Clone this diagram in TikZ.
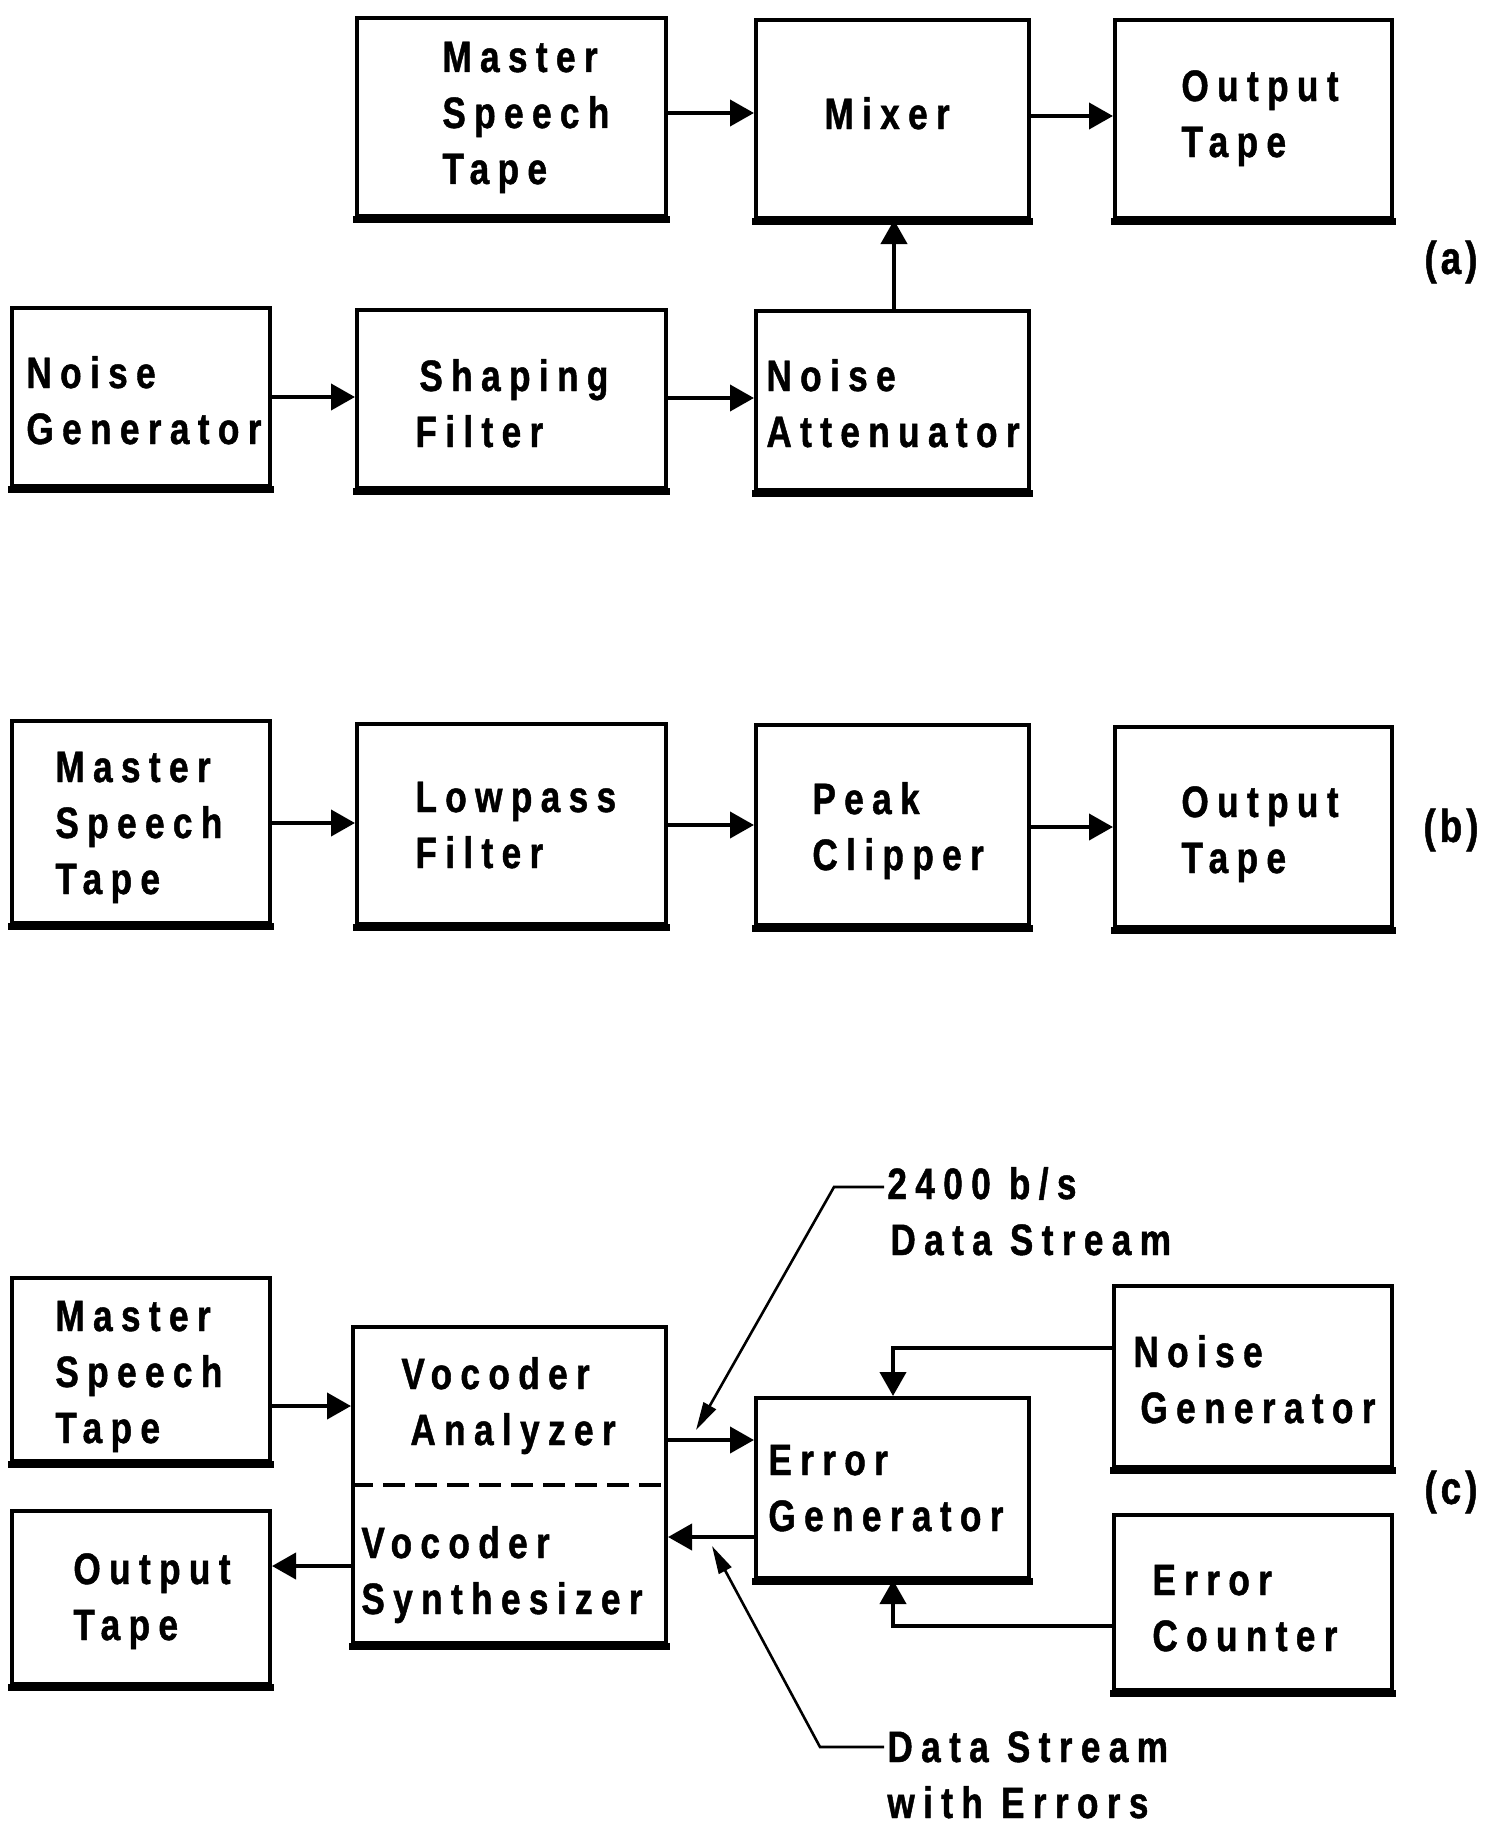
\documentclass[tikz,border=0pt]{standalone}
\usepackage{fontspec}
\newfontfamily\diagfont[FakeStretch=0.8,LetterSpace=19,BoldFeatures={FakeBold=1}]{Liberation Sans}
\usetikzlibrary{arrows.meta,fit}
\newcommand\mkbox[5]{%
  \node[box,fit={(#2,#3) (#4,#5)}] (#1) {};
  \draw[line width=3.6pt] ([xshift=-1pt,yshift=-0.8pt]#1.south west) -- ([xshift=1pt,yshift=-0.8pt]#1.south east);}
\begin{document}
\begin{tikzpicture}[x=0.5pt,y=-0.5pt,
  box/.style={draw,line width=2pt,inner sep=0pt,rectangle},
  txt/.style={anchor=base west,align=left,inner sep=0pt,
    font=\diagfont\bfseries\fontsize{22}{28}\selectfont},
  plab/.style={anchor=center,inner sep=0pt,
    font=\diagfont\bfseries\fontsize{23}{28}\selectfont},
  flow/.style={line width=2pt,-{Triangle[length=12pt,width=13pt]}},
  lead/.style={line width=1.3pt,-{Triangle[length=14pt,width=7pt]}}]
\fill[white] (0,0) rectangle (1508,1825);
\useasboundingbox (0,0) rectangle (1508,1825);
% ---- boxes
\mkbox{mst1}{357}{18}{666}{216}
\mkbox{mixer}{756}{20}{1029}{218}
\mkbox{outa}{1115}{20}{1392}{218}
\mkbox{ng1}{12}{308}{270}{486}
\mkbox{sf}{357}{310}{666}{488}
\mkbox{na}{756}{311}{1029}{490}
\mkbox{mst2}{12}{721}{270}{923}
\mkbox{lf}{357}{724}{666}{924}
\mkbox{pc}{756}{725}{1029}{925}
\mkbox{outb}{1115}{727}{1392}{927}
\mkbox{mst3}{12}{1278}{270}{1461}
\mkbox{voc}{353}{1327}{666}{1643}
\mkbox{outc}{12}{1511}{270}{1684}
\mkbox{eg}{756}{1398}{1029}{1578}
\mkbox{ng3}{1114}{1286}{1392}{1467}
\mkbox{ec}{1114}{1515}{1392}{1690}
\draw[line width=1.8pt,dash pattern=on 11pt off 5pt] (voc.west |- 0,1485) -- (voc.east |- 0,1485);
% ---- texts (anchored at the baseline of the last line)
\node[txt] (t-mst1) at (442,184) {Master\\Speech\\Tape};
\node[txt] (t-mixer) at (824,129) {Mixer};
\node[txt] (t-outa) at (1181,157) {Output\\Tape};
\node[txt] (t-ng1) at (26,444) {Noise\\Generator};
\node[txt] (t-sf) at (415,447) {\hspace*{2pt}Shaping\\Filter};
\node[txt] (t-na) at (766,447) {Noise\\Attenuator};
\node[txt] (t-mst2) at (55,894) {Master\\Speech\\Tape};
\node[txt] (t-lf) at (415,868) {Lowpass\\Filter};
\node[txt] (t-pc) at (812,870) {Peak\\Clipper};
\node[txt] (t-outb) at (1181,873) {Output\\Tape};
\node[txt] (t-mst3) at (55,1443) {Master\\Speech\\Tape};
\node[txt] (t-va) at (401,1445) {Vocoder\\\hspace*{4.5pt}Analyzer};
\node[txt] (t-vs) at (361,1614) {Vocoder\\Synthesizer};
\node[txt] (t-outc) at (73,1640) {Output\\Tape};
\node[txt] (t-eg) at (768,1531) {Error\\Generator};
\node[txt] (t-ng3) at (1133,1423) {Noise\\\hspace*{3.5pt}Generator};
\node[txt] (t-ec) at (1152,1651) {Error\\Counter};
\node[txt] (t-ds) at (887,1255) {2400 b/s\\\hspace*{1.5pt}Data Stream};
\node[txt] (t-dse) at (887,1818) {Data Stream\\with Errors};
\node[plab] (lab-a) at (1451,262) {(\kern2pt a\kern2pt)};
\node[plab] (lab-b) at (1451,830) {(\kern2pt b\kern2pt)};
\node[plab] (lab-c) at (1451,1492) {(\kern2pt c\kern2pt)};
% ---- connectors (a)
\draw[flow] (mst1.east |- 0,113) -- (mixer.west |- 0,113);
\draw[flow] (mixer.east |- 0,116) -- (outa.west |- 0,116);
\draw[flow] (ng1.east |- 0,397) -- (sf.west |- 0,397);
\draw[flow] (sf.east |- 0,398) -- (na.west |- 0,398);
\draw[flow] (na.north -| 894,0) -- (mixer.south -| 894,0);
% ---- connectors (b)
\draw[flow] (mst2.east |- 0,823) -- (lf.west |- 0,823);
\draw[flow] (lf.east |- 0,825) -- (pc.west |- 0,825);
\draw[flow] (pc.east |- 0,827) -- (outb.west |- 0,827);
% ---- connectors (c)
\draw[flow] (mst3.east |- 0,1406) -- (voc.west |- 0,1406);
\draw[flow] (voc.east |- 0,1440) -- (eg.west |- 0,1440);
\draw[flow] (eg.west |- 0,1537) -- (voc.east |- 0,1537);
\draw[flow] (voc.west |- 0,1566) -- (outc.east |- 0,1566);
\draw[flow] (ng3.west |- 0,1348) -| (eg.north -| 893,0);
\draw[flow] (ec.west |- 0,1626) -| (eg.south -| 893,0);
% ---- leaders
\coordinate (k1) at (834,1187);
\coordinate (tip1) at (696,1430);
\coordinate (k2) at (820,1747);
\coordinate (tip2) at (712,1546);
\draw[lead] ([xshift=-1.5pt]t-ds.west |- k1) -- (k1) -- (tip1);
\draw[lead] ([xshift=-1.5pt]t-dse.west |- k2) -- (k2) -- (tip2);
\end{tikzpicture}
\end{document}
